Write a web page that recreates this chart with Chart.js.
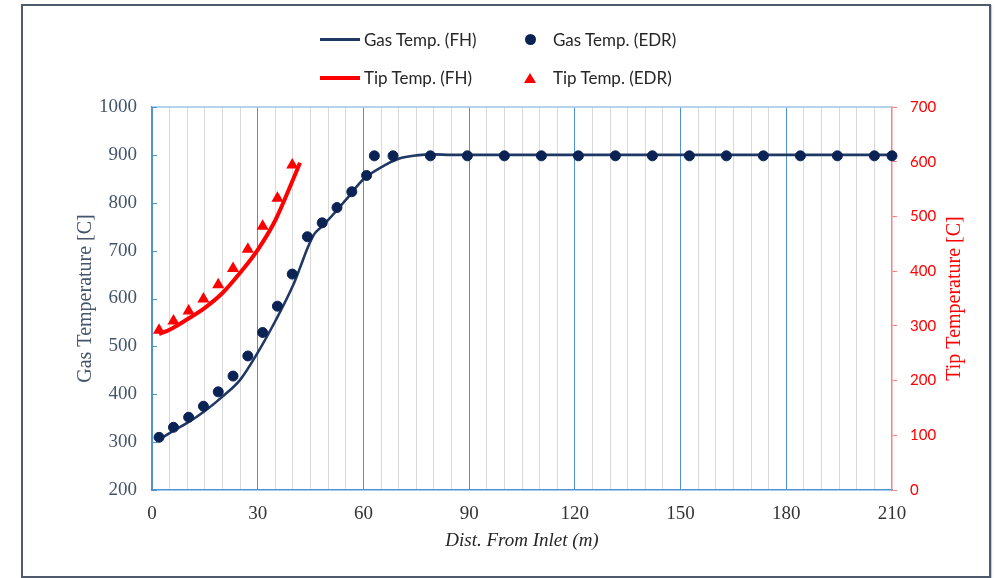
<!DOCTYPE html>
<html>
<head>
<meta charset="utf-8">
<script src="https://cdn.jsdelivr.net/npm/chart.js@4.4.0/dist/chart.umd.min.js"></script>
<style>
  body { margin: 0; background: #fff; overflow: hidden; }
  #wrap { position: relative; width: 995px; height: 578px; }
  #frame { position: absolute; left: 21px; top: 4px; width: 970px; height: 574px; box-sizing: border-box;
           border: 2px solid #4f5b6c; box-shadow: 1px 1px 1px #c8ccd2; pointer-events: none; }
  #legend { position: absolute; left: 0; top: 0; font-family: Lato, sans-serif; font-size: 17px; color: #262626; }
  .lg-item { position: absolute; height: 22px; line-height: 22px; white-space: nowrap; }
  .lg-sym { position: absolute; }
</style>
</head>
<body>
<div id="wrap">
  <canvas id="chart" width="995" height="578"></canvas>
  <div id="legend"></div>
  <div id="frame"></div>
</div>
<script>
// Gas temperature, FH model (smooth line, left axis)
const gasFhDist = [2, 5, 10, 15, 20, 25, 30, 35, 40, 42, 44, 46, 48, 50, 55, 60, 65, 70, 75, 80, 85, 210];
const gasFhTemp = [305, 319, 340, 365, 395, 430, 487, 553, 627, 664, 703, 734, 749, 764, 806, 849, 874, 892, 899, 901, 900, 900];

// Gas temperature, EDR measurements (dots, left axis)
const gasEdrDist = [2, 6.1, 10.4, 14.6, 18.8, 23, 27.2, 31.4, 35.6, 39.8, 44.1, 48.3, 52.5, 56.7, 60.9, 63.1, 68.4, 79,
                    89.5, 100, 110.5, 121, 131.5, 142, 152.5, 163, 173.5, 184, 194.5, 205, 210];
const gasEdrTemp = [310, 331, 352, 375, 405, 438, 480, 529, 584, 651, 729, 758, 790, 823, 857, 898, 898, 898,
                    898, 898, 898, 898, 898, 898, 898, 898, 898, 898, 898, 898, 898];

// Tip temperature, FH model (red line, right axis)
const tipFhDist = [2, 5, 10, 15, 20, 25, 30, 35, 40, 42];
const tipFhTemp = [285, 293, 312, 333, 360, 397, 439, 493, 567, 598];

// Tip temperature, EDR measurements (red triangles, right axis)
const tipEdrDist = [2, 6.1, 10.4, 14.6, 18.8, 23, 27.2, 31.4, 35.6, 39.8];
const tipEdrTemp = [292, 309, 327, 349, 375, 405, 440, 482, 533, 594];

const distTicks = [0, 30, 60, 90, 120, 150, 180, 210];

const toPoints = (xs, ys) => xs.map((x, i) => ({ x: x, y: ys[i] }));

const BLUE = '#4F93D2';
const NAVY = '#203864';
const DOT = '#0B2255';
const RED = '#FF0000';

// top border of the plot, inward tick marks on the left axis, right axis title (reads upward)
const frameLines = {
  id: 'frameLines',
  beforeDatasetsDraw(chart) {
    const { ctx, chartArea: a, scales } = chart;
    ctx.save();
    ctx.strokeStyle = '#9DC3E6';
    ctx.lineWidth = 1.5;
    ctx.beginPath();
    ctx.moveTo(a.left, a.top);
    ctx.lineTo(a.right, a.top);
    ctx.stroke();
    ctx.strokeStyle = BLUE;
    ctx.lineWidth = 1;
    scales.y.ticks.forEach(t => {
      const py = Math.round(scales.y.getPixelForValue(t.value)) + 0.5;
      ctx.beginPath();
      ctx.moveTo(a.left, py);
      ctx.lineTo(a.left + 5, py);
      ctx.stroke();
    });
    ctx.restore();
  },
  afterDraw(chart) {
    const { ctx, chartArea: a, scales } = chart;
    const t = chart.options.scales.y2.title;
    ctx.save();
    ctx.translate(scales.y2.right - 12, (a.top + a.bottom) / 2);
    ctx.rotate(-Math.PI / 2);
    ctx.font = '20px "Liberation Serif"';
    ctx.fillStyle = t.color;
    ctx.textAlign = 'center';
    ctx.textBaseline = 'middle';
    ctx.fillText(t.text, 0, 0);
    ctx.restore();
  }
};

const chart = new Chart(document.getElementById('chart'), {
  type: 'scatter',
  data: {
    datasets: [
      {
        label: 'Gas Temp. (FH)',
        data: toPoints(gasFhDist, gasFhTemp),
        yAxisID: 'y',
        showLine: true,
        borderColor: NAVY,
        borderWidth: 2.6,
        pointRadius: 0,
        cubicInterpolationMode: 'monotone',
        order: 2
      },
      {
        label: 'Gas Temp. (EDR)',
        data: toPoints(gasEdrDist, gasEdrTemp),
        yAxisID: 'y',
        showLine: false,
        pointStyle: 'circle',
        pointRadius: 5,
        borderWidth: 1,
        backgroundColor: DOT,
        borderColor: DOT,
        clip: false,
        order: 0
      },
      {
        label: 'Tip Temp. (FH)',
        data: toPoints(tipFhDist, tipFhTemp),
        yAxisID: 'y2',
        showLine: true,
        borderColor: RED,
        borderWidth: 4,
        pointRadius: 0,
        cubicInterpolationMode: 'monotone',
        order: 3
      },
      {
        label: 'Tip Temp. (EDR)',
        data: toPoints(tipEdrDist, tipEdrTemp),
        yAxisID: 'y2',
        showLine: false,
        pointStyle: 'triangle',
        pointRadius: 7,
        borderWidth: 0,
        backgroundColor: RED,
        borderColor: RED,
        clip: false,
        order: 1
      }
    ]
  },
  options: {
    responsive: false,
    animation: false,
    devicePixelRatio: 1,
    layout: { padding: { left: 74, right: 28, top: 107, bottom: 24 } },
    plugins: {
      legend: { display: false },
      tooltip: { enabled: false }
    },
    scales: {
      x: {
        type: 'linear',
        min: 0,
        max: 210,
        afterFit: s => { s.height = 64; },
        ticks: {
          stepSize: 5,
          autoSkip: false,
          maxRotation: 0,
          padding: 13,
          color: '#333333',
          font: { family: 'Liberation Serif', size: 19 },
          callback: v => distTicks.includes(v) ? String(v) : ''
        },
        grid: {
          drawTicks: false,
          lineWidth: 1,
          color: c => {
            if (!c.tick || c.tick.value === 210) return 'rgba(0,0,0,0)';
            return c.tick.value % 30 === 0 ? BLUE : '#D9D9D9';
          }
        },
        border: { color: BLUE, width: 1.5 },
        title: {
          display: true,
          text: 'Dist. From Inlet (m)',
          color: '#262626',
          font: { family: 'Liberation Serif', size: 19, style: 'italic' },
          padding: { top: 0, bottom: 2 }
        }
      },
      y: {
        position: 'left',
        min: 200,
        max: 1000,
        afterFit: s => { s.width = 78; },
        ticks: {
          stepSize: 100,
          padding: 15,
          color: '#44546A',
          font: { family: 'Liberation Serif', size: 19 },
          callback: v => String(v)
        },
        grid: { drawOnChartArea: false, drawTicks: false },
        border: { color: BLUE, width: 1.5 },
        title: {
          display: true,
          text: 'Gas Temperature [C]',
          color: '#44546A',
          font: { family: 'Liberation Serif', size: 20 },
          padding: { top: 0, bottom: 0 }
        }
      },
      y2: {
        position: 'right',
        min: 0,
        max: 700,
        afterFit: s => { s.width = 75; },
        ticks: {
          stepSize: 100,
          padding: 13,
          color: RED,
          font: { family: 'Lato', size: 15 },
          callback: v => String(v)
        },
        grid: { drawOnChartArea: false, drawTicks: true, tickLength: 5, color: '#FF7C80' },
        border: { color: '#FF7C80', width: 1.5 },
        title: {
          display: false,
          text: 'Tip Temperature [C]',
          color: RED
        }
      }
    }
  },
  plugins: [frameLines]
});

// two-column legend, built from the chart's datasets
const legendSlots = [
  { left: 320, top: 39.5 },
  { left: 530, top: 39.5 },
  { left: 320, top: 77.5 },
  { left: 530, top: 77.5 }
];
const legend = document.getElementById('legend');
chart.data.datasets.forEach((ds, i) => {
  const slot = legendSlots[i];
  const sym = document.createElement('div');
  sym.className = 'lg-sym';
  if (ds.showLine) {
    sym.style.left = slot.left + 'px';
    sym.style.top = (slot.top - ds.borderWidth / 2) + 'px';
    sym.style.width = '40px';
    sym.style.height = ds.borderWidth + 'px';
    sym.style.background = ds.borderColor;
  } else if (ds.pointStyle === 'circle') {
    sym.style.left = (slot.left - 5.5) + 'px';
    sym.style.top = (slot.top - 5.5) + 'px';
    sym.style.width = '11px';
    sym.style.height = '11px';
    sym.style.borderRadius = '50%';
    sym.style.background = ds.backgroundColor;
  } else {
    sym.style.left = (slot.left - 6) + 'px';
    sym.style.top = (slot.top - 5) + 'px';
    sym.style.width = '0';
    sym.style.height = '0';
    sym.style.borderLeft = '6px solid transparent';
    sym.style.borderRight = '6px solid transparent';
    sym.style.borderBottom = '10px solid ' + ds.backgroundColor;
  }
  legend.appendChild(sym);
  const txt = document.createElement('div');
  txt.className = 'lg-item';
  txt.textContent = ds.label;
  txt.style.left = (slot.left + (ds.showLine ? 44 : 23)) + 'px';
  txt.style.top = (slot.top - 11) + 'px';
  legend.appendChild(txt);
});
</script>
</body>
</html>
